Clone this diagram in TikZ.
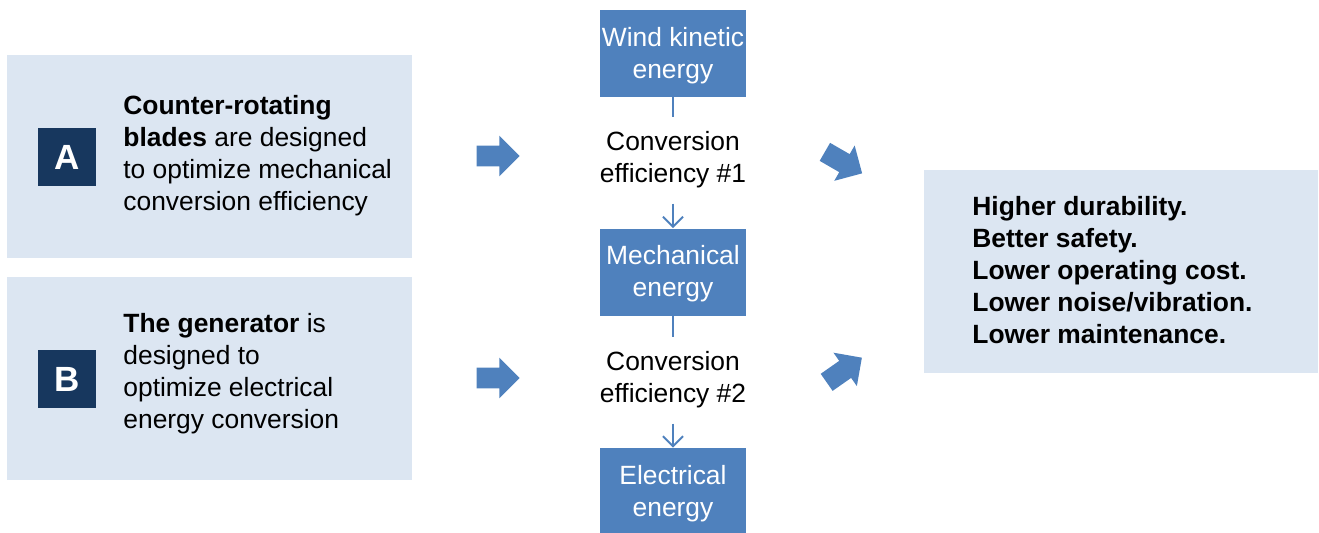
\documentclass[tikz,border=0pt]{standalone}
\usepackage{fontspec}
\setmainfont{Liberation Sans}
\usetikzlibrary{shapes,arrows,arrows.meta,positioning}
\definecolor{panelbg}{RGB}{220,230,242}
\definecolor{navy}{RGB}{23,55,94}
\definecolor{stageblue}{RGB}{79,129,189}
\newcommand{\bodyfont}{\fontsize{13.2}{16}\selectfont}
\tikzstyle{panel}=[fill=panelbg,
                   minimum width=202.5pt,
                   minimum height=101.5pt,
                   inner sep=0pt]
\tikzstyle{badge}=[fill=navy,
                   text=white,
                   minimum size=29pt,
                   inner sep=0pt,
                   font=\fontsize{17.5}{20}\selectfont\bfseries]
\tikzstyle{blurb}=[align=left, anchor=west, inner sep=0pt, font=\bodyfont]
\tikzstyle{stage}=[fill=stageblue,
                   text=white,
                   align=center,
                   minimum width=73pt,
                   minimum height=43.5pt,
                   inner sep=0pt,
                   text depth=1pt,
                   font=\bodyfont]
\tikzstyle{conv}=[align=center, inner xsep=0pt, inner ysep=7.4pt, font=\bodyfont]
\tikzstyle{bigarrow}=[single arrow,
                      fill=stageblue,
                      minimum height=21.5pt,
                      inner xsep=0pt,
                      inner ysep=5pt,
                      single arrow head extend=5pt]
\tikzstyle{link}=[draw=stageblue, line width=1pt]

\begin{document}
\begin{tikzpicture}[x=0.5pt,y=-0.5pt]
    \useasboundingbox (0,0) rectangle (1319,532);
    % left panels
    \node[panel] (panelA) at (209.5,156.5) {};
    \node[panel] (panelB) at (209.5,378.5) {};
    \node[badge] (badgeA) at (67,157) {A};
    \node[badge] (badgeB) at (67,379) {B};
    \node[blurb] (textA) at (123,156) {\textbf{Counter-rotating}\\\textbf{blades} are designed\\to optimize mechanical\\conversion efficiency};
    \node[blurb] (textB) at (123,374) {\textbf{The generator} is\\designed to\\optimize electrical\\energy conversion};
    \node[bigarrow] (pushA) at (493,156) {};
    \node[bigarrow] (pushB) at (493,378) {};

    % energy chain
    \node[stage] (wind) at (673,53.5) {Wind kinetic\\energy};
    \node[conv] (conv1) at (673,160) {Conversion\\efficiency \#1};
    \node[stage] (mech) at (673,272) {Mechanical\\energy};
    \node[conv] (conv2) at (673,380) {Conversion\\efficiency \#2};
    \node[stage] (elec) at (673,491.5) {Electrical\\energy};
    \path (wind) edge[link] (conv1)
          (conv1) edge[link,-{Straight Barb[length=5pt,width=10pt]}] (mech)
          (mech) edge[link] (conv2)
          (conv2) edge[link,-{Straight Barb[length=5pt,width=10pt]}] (elec);

    % outcome
    \node[bigarrow, rotate=-30] (gainA) at (839,160) {};
    \node[bigarrow, rotate=35] (gainB) at (840,373) {};
    \node[panel, minimum width=197pt] (result) at (1121,271.5) {};
    \node[blurb, font=\bodyfont\bfseries] (gains) at (972,270.5) {Higher durability.\\Better safety.\\Lower operating cost.\\Lower noise/vibration.\\Lower maintenance.};
\end{tikzpicture}
\end{document}
